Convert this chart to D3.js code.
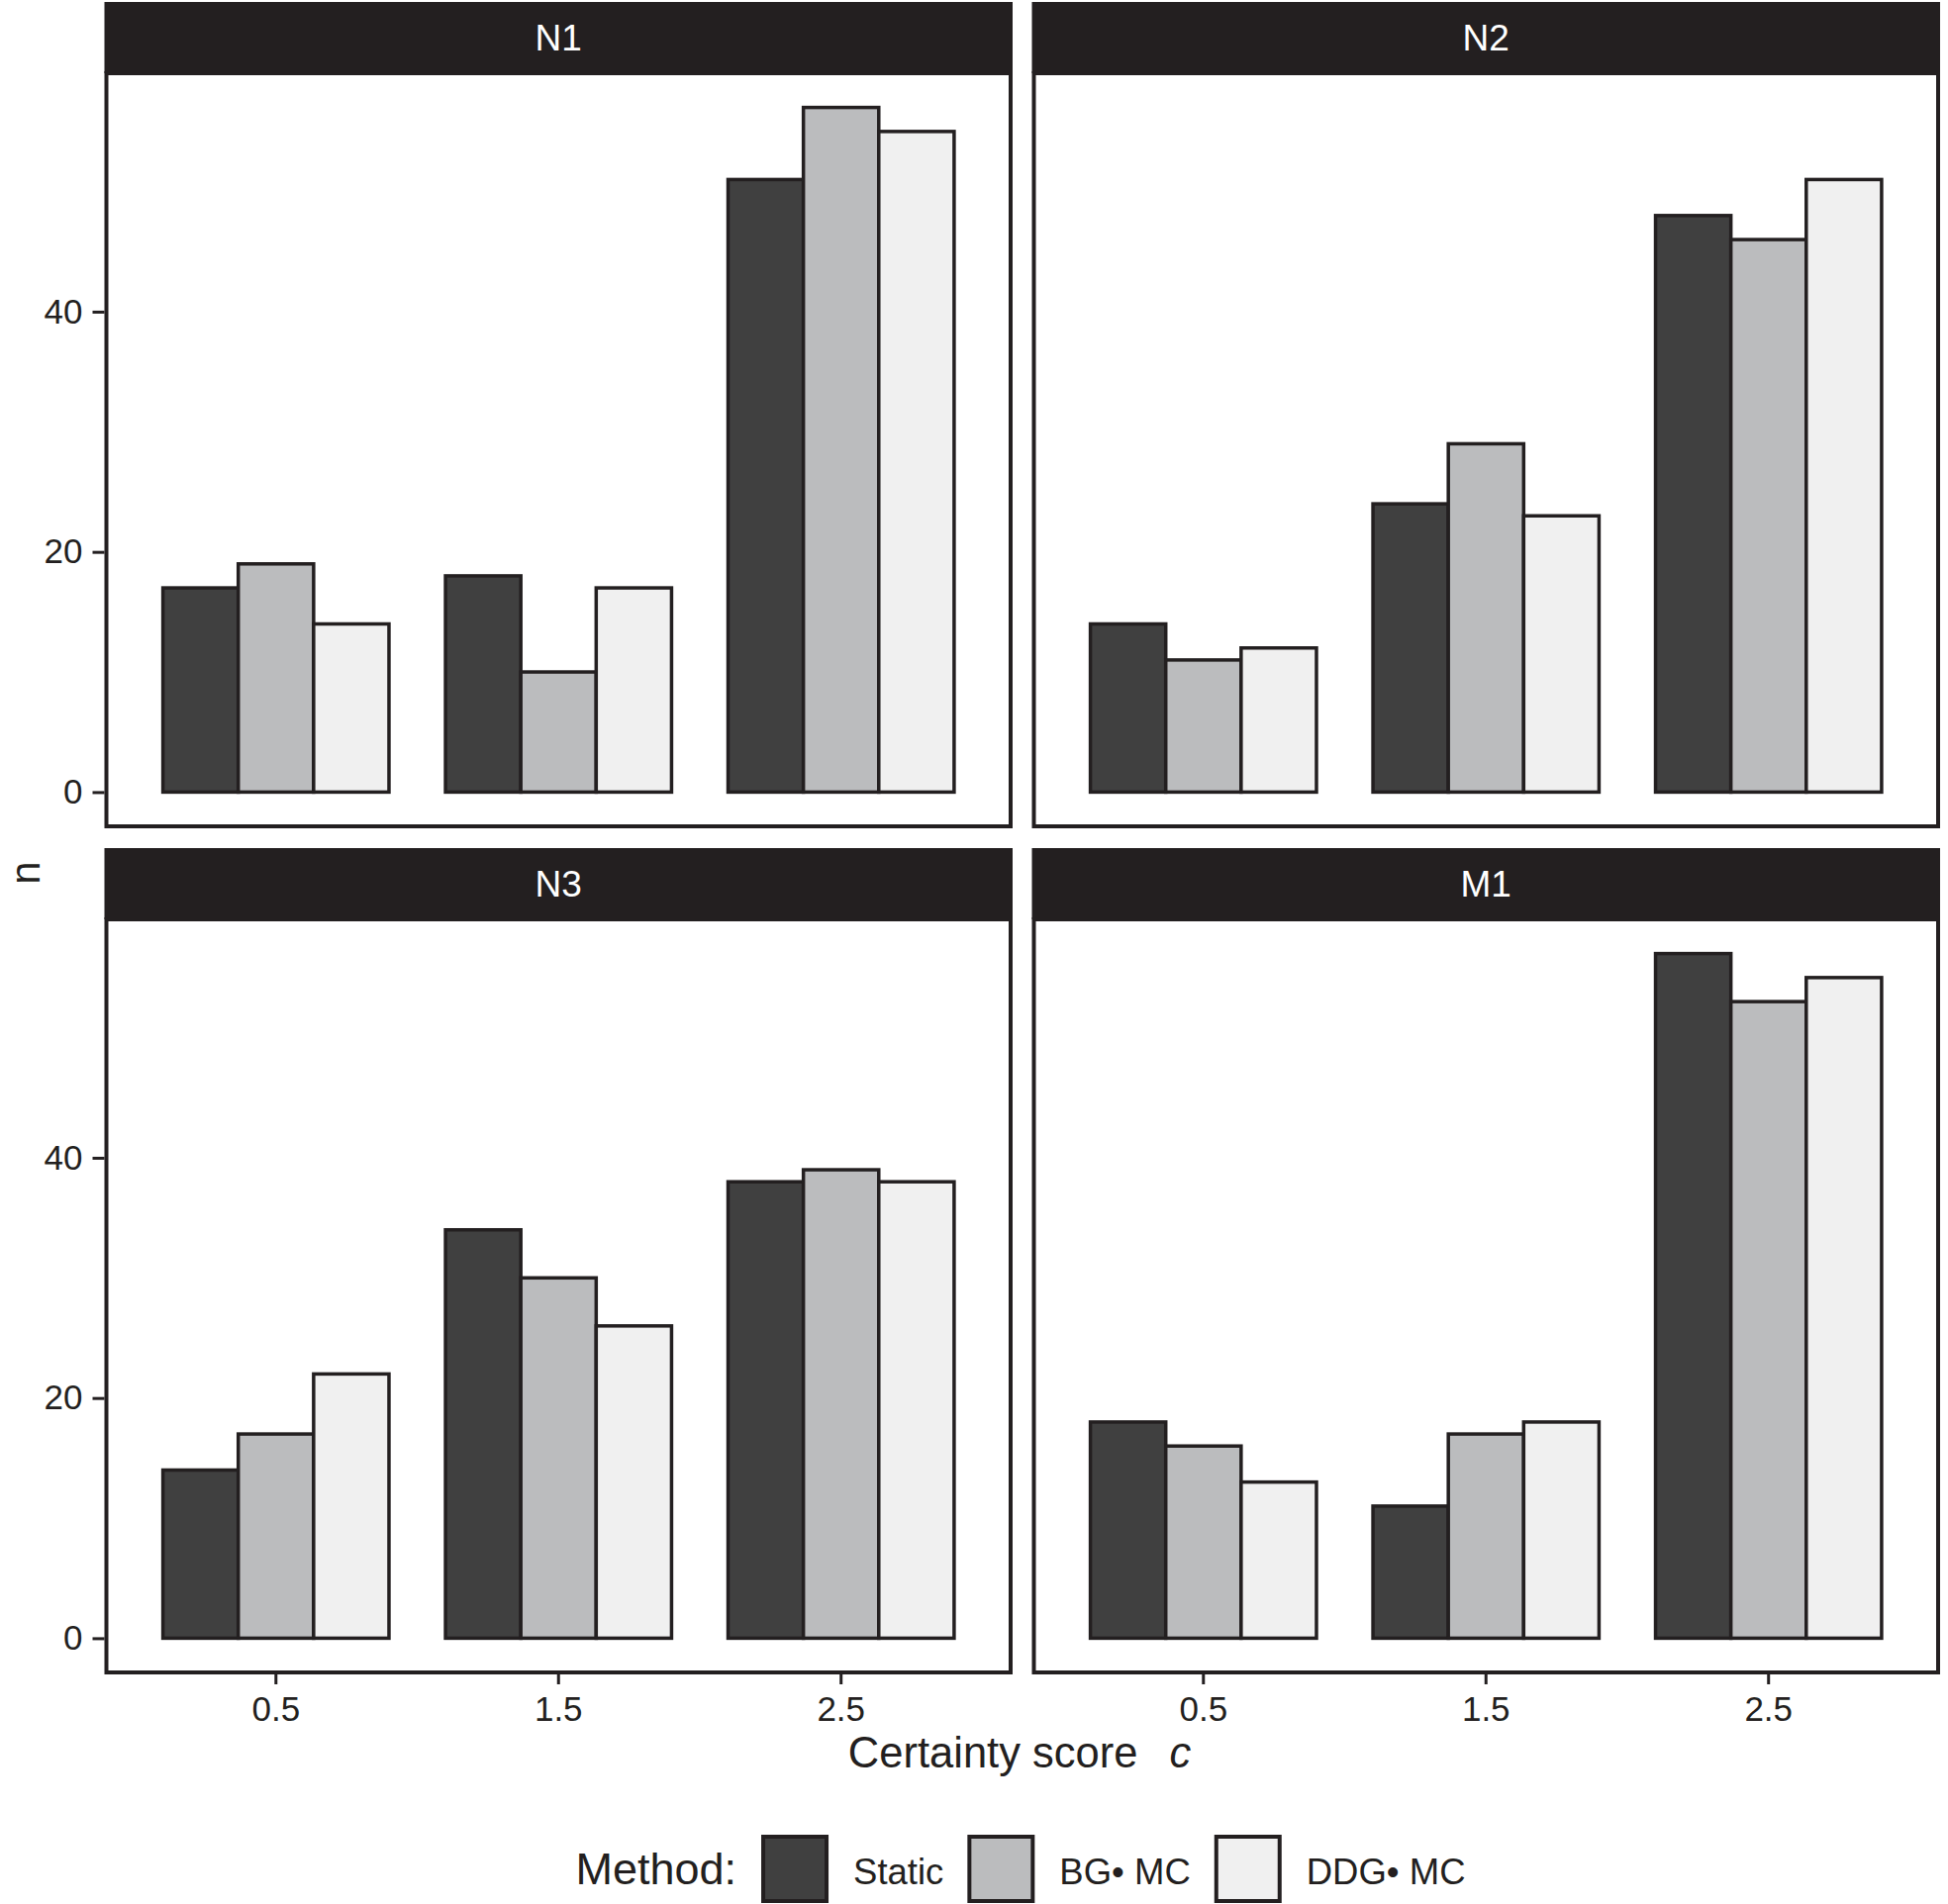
<!DOCTYPE html>
<meta charset="utf-8">
<script src="https://cdn.jsdelivr.net/npm/d3@7"></script>
<style>
  body { margin: 0; background: #fff; }
  text { font-family: "Liberation Sans", Arial, Helvetica, sans-serif; fill: #231f20; }
</style>
<body>
<div id="chart"></div>
<script>

// ----- data
var panelNames = ["N1", "N2", "N3", "M1"]
var certainty = ["0.5", "1.5", "2.5"]
var methods = ["Static", "BG\u2022 MC", "DDG\u2022 MC"]
var fills = ["#404040", "#bbbcbe", "#f0f0f0"]
var yTicks = [0, 20, 40]

// rows = certainty score, cols = method (Static, BG MC, DDG MC)
var n1Counts = [[17, 19, 14], [18, 10, 17], [51, 57, 55]]
var n2Counts = [[14, 11, 12], [24, 29, 23], [48, 46, 51]]
var n3Counts = [[14, 17, 22], [34, 30, 26], [38, 39, 38]]
var m1Counts = [[18, 16, 13], [11, 17, 18], [57, 53, 55]]
var allCounts = [n1Counts, n2Counts, n3Counts, m1Counts]

var W = 1968, H = 1924
var ink = "#231f20"
var colX = [[107.5, 1021], [1044.5, 1958]]
var stripTop = [2, 857]
var panelTop = [74, 929]
var panelBottom = [835, 1690]

var svg = d3.select("#chart").append("svg")
  .attr("width", W).attr("height", H)

var yMax = d3.max(allCounts, function(p) { return d3.max(p, function(r) { return d3.max(r) }) })
var yPad = yMax * 0.05

for (var p = 0; p < panelNames.length; p++) {
  var col = p % 2, row = Math.floor(p / 2)
  var x0 = colX[col][0], x1 = colX[col][1]
  var y0 = panelTop[row], y1 = panelBottom[row]

  var xScale = d3.scaleBand().domain(certainty).range([x0, x1])
    .paddingInner(0.2).paddingOuter(0.2)
  var xSub = d3.scaleBand().domain(methods).range([0, xScale.bandwidth()])
  var yScale = d3.scaleLinear().domain([-yPad, yMax + yPad]).range([y1, y0])

  var g = svg.append("g")

  // strip
  g.append("rect")
    .attr("x", x0 - 2).attr("y", stripTop[row])
    .attr("width", x1 - x0 + 4).attr("height", y0 - stripTop[row])
    .attr("fill", ink)
  g.append("text")
    .attr("x", (x0 + x1) / 2).attr("y", (stripTop[row] + y0) / 2 + 13)
    .attr("text-anchor", "middle")
    .style("font-size", "37px").style("fill", "#fff")
    .text(panelNames[p])

  // bars
  var counts = allCounts[p]
  for (var i = 0; i < certainty.length; i++) {
    for (var j = 0; j < methods.length; j++) {
      g.append("rect")
        .attr("x", xScale(certainty[i]) + xSub(methods[j]))
        .attr("y", yScale(counts[i][j]))
        .attr("width", xSub.bandwidth())
        .attr("height", yScale(0) - yScale(counts[i][j]))
        .attr("fill", fills[j])
        .attr("stroke", ink)
        .attr("stroke-width", 3.5)
    }
  }

  // panel border
  g.append("rect")
    .attr("x", x0).attr("y", y0)
    .attr("width", x1 - x0).attr("height", y1 - y0)
    .attr("fill", "none").attr("stroke", ink).attr("stroke-width", 4)

  // axes
  if (col == 0) {
    var ya = g.append("g")
      .attr("transform", "translate(" + (x0 - 2) + ",0)")
      .call(d3.axisLeft(yScale).tickValues(yTicks).tickSize(12).tickPadding(10))
    ya.select(".domain").remove()
    ya.selectAll("line").attr("stroke", ink).attr("stroke-width", 3)
    ya.selectAll("text").style("font-size", "35px").style("fill", ink)
  }
  if (row == 1) {
    var xa = g.append("g")
      .attr("transform", "translate(0," + (y1 + 2) + ")")
      .call(d3.axisBottom(xScale).tickSize(10).tickPadding(12))
    xa.select(".domain").remove()
    xa.selectAll("line").attr("stroke", ink).attr("stroke-width", 3)
    xa.selectAll("text").style("font-size", "35px").style("fill", ink)
  }
  svg.selectAll(".tick text").attr("font-family", null)
}

// ----- axis titles
var xTitle = svg.append("text")
  .attr("x", 1030).attr("y", 1786)
  .attr("text-anchor", "middle")
  .style("font-size", "43.5px")
xTitle.append("tspan").text("Certainty score")
xTitle.append("tspan").attr("dx", 32).style("font-style", "italic").text("c")

svg.append("text")
  .attr("transform", "translate(40,882) rotate(-90)")
  .attr("text-anchor", "middle")
  .style("font-size", "42px")
  .text("n")

// ----- legend
var leg = svg.append("g")
var legY = 1904
var title = leg.append("text")
  .attr("x", 0).attr("y", legY)
  .style("font-size", "45px")
  .text("Method:")
var cx = title.node().getComputedTextLength() + 25
for (var k = 0; k < methods.length; k++) {
  leg.append("rect")
    .attr("x", cx + 2).attr("y", 1856)
    .attr("width", 64).attr("height", 65)
    .attr("fill", fills[k]).attr("stroke", ink).attr("stroke-width", 4)
  var lt = leg.append("text")
    .attr("x", cx + 68 + 25).attr("y", legY)
    .style("font-size", "36.5px")
    .text(methods[k])
  cx = cx + 68 + 25 + lt.node().getComputedTextLength() + 24
}
var legW = cx - 24
leg.attr("transform", "translate(" + (1031 - legW / 2) + ",0)")

</script>
</body>
